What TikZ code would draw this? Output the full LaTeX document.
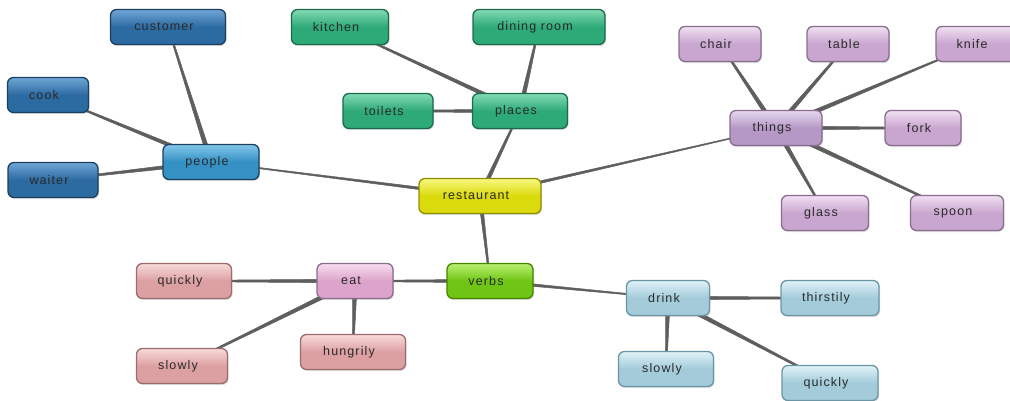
\documentclass[tikz,border=0pt]{standalone}
\usepackage{fontspec}
\setmainfont{Liberation Sans}
\newfontfamily\boxfont[LetterSpace=9]{Liberation Sans}
\usetikzlibrary{shadows,backgrounds,calc}
\definecolor{bluebase}{HTML}{2C6AA2}
\definecolor{bluetop}{HTML}{70A6D6}
\definecolor{blueedge}{HTML}{1B3F60}
\definecolor{pblbase}{HTML}{3590C4}
\definecolor{pbltop}{HTML}{82C6EA}
\definecolor{greenbase}{HTML}{2DAA78}
\definecolor{greentop}{HTML}{82DAB4}
\definecolor{greenedge}{HTML}{1B6B4B}
\definecolor{yelbase}{HTML}{DADA0C}
\definecolor{yeltop}{HTML}{F8F880}
\definecolor{yeledge}{HTML}{8E8E00}
\definecolor{purbase}{HTML}{C9A6CF}
\definecolor{purtop}{HTML}{F0E0F2}
\definecolor{puredge}{HTML}{8A6C8E}
\definecolor{thbase}{HTML}{B598C6}
\definecolor{thtop}{HTML}{E6D8EE}
\definecolor{pinkbase}{HTML}{DDA0A2}
\definecolor{pinktop}{HTML}{F8DADA}
\definecolor{pinkedge}{HTML}{9C6C6D}
\definecolor{eatbase}{HTML}{DCA4CA}
\definecolor{eattop}{HTML}{F8DCEE}
\definecolor{vrbbase}{HTML}{6FC513}
\definecolor{vrbtop}{HTML}{BAF072}
\definecolor{vrbedge}{HTML}{468500}
\definecolor{lbbase}{HTML}{A3CBDA}
\definecolor{lbtop}{HTML}{E0F2F8}
\definecolor{lbedge}{HTML}{6B95A5}
\definecolor{linkc}{HTML}{5E5E5E}
\definecolor{txt}{HTML}{2A2A2A}
\tikzset{
  box/.style={rounded corners=6pt, minimum height=35pt, inner sep=0pt,
    font=\boxfont\fontsize{12.5}{14}\selectfont, text=txt, line width=1.3pt,
    execute at end node={\hspace{8pt}},
    drop shadow={opacity=0.25, shadow xshift=1pt, shadow yshift=-1.5pt}},
  bluebox/.style={box, draw=blueedge, top color=bluetop, bottom color=bluebase, middle color=bluebase},
  peoplebox/.style={box, draw=blueedge, top color=pbltop, bottom color=pblbase, middle color=pblbase},
  greenbox/.style={box, draw=greenedge, top color=greentop, bottom color=greenbase, middle color=greenbase},
  yellowbox/.style={box, draw=yeledge, top color=yeltop, bottom color=yelbase, middle color=yelbase},
  purplebox/.style={box, draw=puredge, top color=purtop, bottom color=purbase, middle color=purbase},
  thingsbox/.style={box, draw=puredge, top color=thtop, bottom color=thbase, middle color=thbase},
  pinkbox/.style={box, draw=pinkedge, top color=pinktop, bottom color=pinkbase, middle color=pinkbase},
  eatbox/.style={box, draw=puredge, top color=eattop, bottom color=eatbase, middle color=eatbase},
  verbbox/.style={box, draw=vrbedge, top color=vrbtop, bottom color=vrbbase, middle color=vrbbase},
  lbbox/.style={box, draw=lbedge, top color=lbtop, bottom color=lbbase, middle color=lbbase},
  linkfill/.style={fill=linkc, draw=linkc, line width=0.5pt, line join=round}
}
% tapered connector: thin at #1, thick at #2
\newcommand\taper[4]{%
  \filldraw[linkfill] ($(#1.center)!#3!90:(#2.center)$) -- ($(#2.center)!#4!-90:(#1.center)$)
     -- ($(#2.center)!#4!90:(#1.center)$) -- ($(#1.center)!#3!-90:(#2.center)$) -- cycle;}
\begin{document}
\begin{tikzpicture}[x=1pt,y=-1pt]
\useasboundingbox (0,0) rectangle (1010,400);
% people group
\node[bluebox, minimum width=115pt] (customer) at (168,27) {customer};
\node[bluebox, minimum width=81pt] (cook) at (48,95) {cook};
\node[bluebox, minimum width=90pt] (waiter) at (53,180) {waiter};
\node[peoplebox, minimum width=96pt] (people) at (211,162) {people};
% places group
\node[greenbox, minimum width=97pt] (kitchen) at (340,27) {kitchen};
\node[greenbox, minimum width=132pt] (dining) at (539,27) {dining room};
\node[greenbox, minimum width=90pt] (toilets) at (388,111) {toilets};
\node[greenbox, minimum width=95pt] (places) at (520,111) {places};
% center
\node[yellowbox, minimum width=122pt] (restaurant) at (480,196) {restaurant};
% things group
\node[thingsbox, minimum width=92pt] (things) at (776,128) {things};
\node[purplebox, minimum width=82pt] (chair) at (720,44) {chair};
\node[purplebox, minimum width=82pt] (table) at (848,44) {table};
\node[purplebox, minimum width=80pt] (knife) at (976,44) {knife};
\node[purplebox, minimum width=76pt] (fork) at (923,128) {fork};
\node[purplebox, minimum width=87pt] (glass) at (825,213) {glass};
\node[purplebox, minimum width=93pt] (spoon) at (957,213) {spoon};
% verbs group
\node[verbbox, minimum width=86pt] (verbs) at (490,281) {verbs};
\node[eatbox, minimum width=76pt] (eat) at (355,281) {eat};
\node[pinkbox, minimum width=95pt] (equickly) at (184,281) {quickly};
\node[pinkbox, minimum width=91pt] (eslowly) at (182,366) {slowly};
\node[pinkbox, minimum width=105pt] (hungrily) at (353,352) {hungrily};
\node[lbbox, minimum width=83pt] (drink) at (668,298) {drink};
\node[lbbox, minimum width=98pt] (thirstily) at (830,298) {thirstily};
\node[lbbox, minimum width=95pt] (dslowly) at (666,369) {slowly};
\node[lbbox, minimum width=96pt] (dquickly) at (830,383) {quickly};
% connectors
\begin{scope}[on background layer]
\taper{customer}{people}{0.6pt}{2.3pt}
\taper{cook}{people}{0.6pt}{2.1pt}
\taper{waiter}{people}{0.6pt}{2.1pt}
\taper{people}{restaurant}{0.4pt}{1.5pt}
\taper{kitchen}{places}{0.6pt}{2.1pt}
\taper{dining}{places}{0.6pt}{2.3pt}
\taper{toilets}{places}{0.6pt}{1.9pt}
\taper{places}{restaurant}{0.6pt}{2.1pt}
\taper{things}{restaurant}{0.3pt}{1.5pt}
\taper{chair}{things}{0.6pt}{2.3pt}
\taper{table}{things}{0.6pt}{2.3pt}
\taper{knife}{things}{0.4pt}{2.3pt}
\taper{fork}{things}{0.6pt}{2.1pt}
\taper{glass}{things}{0.6pt}{2.3pt}
\taper{spoon}{things}{0.6pt}{2.3pt}
\taper{verbs}{restaurant}{0.6pt}{1.9pt}
\taper{eat}{verbs}{0.6pt}{1.7pt}
\taper{equickly}{eat}{0.6pt}{1.9pt}
\taper{eslowly}{eat}{0.6pt}{2.3pt}
\taper{hungrily}{eat}{0.6pt}{2.3pt}
\taper{drink}{verbs}{0.4pt}{1.5pt}
\taper{thirstily}{drink}{0.6pt}{1.9pt}
\taper{dslowly}{drink}{0.6pt}{2.3pt}
\taper{dquickly}{drink}{0.6pt}{2.3pt}
\end{scope}
\end{tikzpicture}
\end{document}
